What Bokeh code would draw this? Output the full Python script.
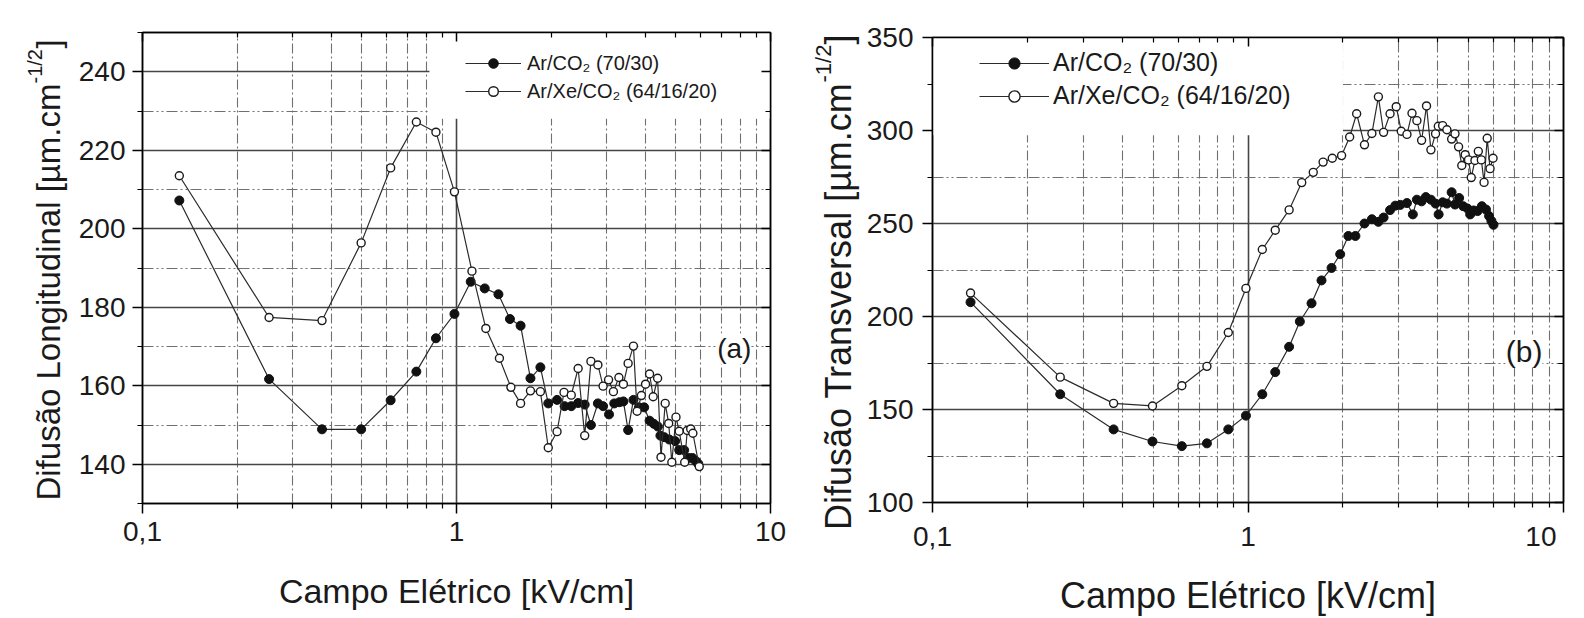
import math
from bokeh.plotting import figure
from bokeh.models import (FixedTicker, LinearAxis, LogAxis, Label, Legend, LegendItem,
                          BoxAnnotation, Range1d)
from bokeh.layouts import row, column
from bokeh.core.properties import value
from bokeh.embed import file_html
from bokeh.resources import INLINE

FONT = "Liberation Sans"

# ---------------- data: panel (a) Difusão Longitudinal ----------------
a_ar_x = [0.131, 0.253, 0.373, 0.497, 0.617, 0.745, 0.860, 0.985, 1.11, 1.23, 1.36, 1.48,
          1.60, 1.72, 1.85, 1.96, 2.09, 2.21, 2.32, 2.44, 2.56, 2.68, 2.82, 2.93, 3.06,
          3.18, 3.30, 3.40, 3.52, 3.66, 3.81, 3.96, 4.12, 4.25, 4.38, 4.46, 4.59, 4.76,
          4.97, 5.12, 5.31, 5.48, 5.64, 5.77, 5.89]
a_ar_y = [207.2, 161.7, 148.9, 148.9, 156.3, 163.6, 172.1, 178.3, 186.5, 184.8, 183.3, 177.0,
          175.3, 161.9, 164.7, 155.5, 156.4, 154.8, 154.8, 155.6, 155.2, 150.0, 155.5, 154.8,
          152.7, 155.5, 155.8, 156.0, 148.7, 156.4, 154.5, 154.5, 151.1, 150.3, 149.6, 147.3,
          146.9, 146.3, 145.9, 143.6, 143.6, 141.6, 141.6, 140.9, 140.1]

a_xe_x = [0.131, 0.253, 0.373, 0.497, 0.617, 0.745, 0.860, 0.985, 1.12, 1.24, 1.37, 1.49,
          1.60, 1.72, 1.85, 1.96, 2.09, 2.20, 2.32, 2.44, 2.56, 2.68, 2.82, 2.93, 3.05,
          3.16, 3.29, 3.40, 3.52, 3.66, 3.76, 3.88, 4.00, 4.12, 4.23, 4.37, 4.48, 4.62,
          4.74, 4.85, 5.00, 5.12, 5.33, 5.43, 5.57, 5.66, 5.93]
a_xe_y = [213.5, 177.4, 176.6, 196.4, 215.5, 227.2, 224.6, 209.4, 189.2, 174.6, 167.0, 159.6,
          155.5, 158.7, 158.5, 144.2, 148.3, 158.3, 157.6, 164.4, 147.3, 166.2, 165.3, 159.9,
          161.5, 158.5, 162.1, 160.4, 165.7, 170.1, 153.5, 157.5, 160.4, 163.0, 157.2, 161.9,
          141.8, 155.5, 150.4, 140.5, 152.0, 148.4, 140.5, 148.6, 149.0, 147.9, 139.4]

# ---------------- data: panel (b) Difusão Transversal ----------------
b_ar_x = [0.132, 0.254, 0.375, 0.498, 0.617, 0.741, 0.866, 0.985, 1.11, 1.22, 1.35, 1.46,
          1.59, 1.71, 1.84, 1.96, 2.08, 2.19, 2.34, 2.47, 2.59, 2.69, 2.82, 2.93, 3.04,
          3.19, 3.33, 3.43, 3.55, 3.66, 3.80, 3.93, 4.02, 4.14, 4.27, 4.42, 4.53, 4.67,
          4.81, 4.96, 5.06, 5.19, 5.34, 5.51, 5.68, 5.81, 5.91, 6.00]
b_ar_y = [207.7, 158.2, 139.3, 132.8, 130.3, 131.8, 139.3, 146.7, 158.2, 170.1, 183.7, 197.3,
          207.1, 219.4, 226.1, 233.5, 243.3, 243.3, 250.0, 252.3, 250.9, 253.2, 257.2, 259.6,
          260.0, 261.0, 254.9, 262.8, 261.9, 264.2, 262.8, 260.7, 254.9, 261.4, 260.7, 266.8,
          260.2, 263.7, 259.3, 258.1, 254.9, 257.0, 256.7, 259.3, 257.5, 254.0, 251.4, 249.3]

b_xe_x = [0.132, 0.254, 0.375, 0.498, 0.617, 0.741, 0.866, 0.985, 1.11, 1.22, 1.35, 1.48,
          1.61, 1.73, 1.85, 1.98, 2.10, 2.21, 2.34, 2.47, 2.59, 2.69, 2.82, 2.95, 3.06,
          3.19, 3.31, 3.43, 3.55, 3.68, 3.80, 3.93, 4.01, 4.14, 4.27, 4.42, 4.53, 4.65,
          4.76, 4.88, 5.00, 5.10, 5.24, 5.37, 5.49, 5.60, 5.73, 5.85, 5.98]
b_xe_y = [212.6, 167.4, 153.3, 151.9, 162.8, 173.2, 191.4, 215.1, 236.0, 246.4, 257.3, 272.0,
          277.5, 283.0, 285.1, 286.5, 296.5, 309.0, 292.3, 298.4, 318.1, 299.0, 309.0, 312.8,
          299.6, 297.9, 309.3, 305.3, 294.7, 313.2, 289.6, 298.2, 302.3, 302.6, 300.4, 295.4,
          298.2, 291.2, 281.2, 287.0, 284.2, 274.7, 283.9, 288.8, 284.2, 272.1, 295.8, 279.5,
          285.1]

series_labels = ["Ar/CO\u2082 (70/30)", "Ar/Xe/CO\u2082 (64/16/20)"]

x_ticks = [0.1, 1, 10]
a_x_tick_labels = ["0,1", "1", "10"]
b_x_tick_labels = ["0,1", "1", "10\u2002\u2002"]
x_minor = [0.2, 0.3, 0.4, 0.5, 0.6, 0.7, 0.8, 0.9, 2, 3, 4, 5, 6, 7, 8, 9]

a_y_ticks = [140, 160, 180, 200, 220, 240]
a_y_minor = [130, 150, 170, 190, 210, 230, 250]
b_y_ticks = [100, 150, 200, 250, 300, 350]
b_y_minor = [125, 175, 225, 275, 325]

x_title = "Campo Elétrico [kV/cm]"
a_y_title = "Difusão Longitudinal [µm.cm"
b_y_title = "Difusão Transversal [µm.cm"
y_title_sup = "-1/2"
y_title_close = "]"

H = 618


def title_strip(width, cfg):
    """Narrow figure holding the rotated y-axis title (with superscript)."""
    t = figure(width=width, height=H, x_range=Range1d(0, width), y_range=Range1d(0, H),
               min_border=0, x_axis_location=None, y_axis_location=None,
               output_backend="svg", toolbar_location=None, outline_line_color=None,
               background_fill_color="white", border_fill_color="white")
    t.grid.visible = False
    bx, yend, fs, sfs, supw = cfg["ytitle"]
    kw = dict(angle=math.pi / 2, text_baseline="alphabetic", text_font=value(FONT),
              text_color="#1a1a1a")
    t.text(x=[bx], y=[H - yend], text=[cfg["ytitle_text"]], text_align="right",
           text_font_size=value(f"{fs}px"), **kw)
    t.text(x=[bx - 0.42 * fs], y=[H - yend], text=[y_title_sup], text_align="left",
           text_font_size=value(f"{sfs}px"), **kw)
    t.text(x=[bx], y=[H - yend + supw], text=[y_title_close], text_align="left",
           text_font_size=value(f"{fs}px"), **kw)
    return t


def make_panel(cfg, W):
    fl, fr, ft, fb = cfg["frame"]
    y0, y1 = cfg["yr"]
    p = figure(width=W, height=H, x_axis_type="log",
               x_range=Range1d(0.1, 10), y_range=Range1d(y0, y1),
               min_border_left=fl, min_border_right=W - fr,
               min_border_top=ft, min_border_bottom=H - fb,
               output_backend="svg", toolbar_location=None,
               background_fill_color="white", border_fill_color="white",
               outline_line_color="black", outline_line_width=1.5)

    xt = FixedTicker(ticks=x_ticks, minor_ticks=x_minor)
    yt = FixedTicker(ticks=cfg["yt"], minor_ticks=cfg["ym"])

    ts = cfg["tick_fs"]
    xa = p.xaxis[0]
    xa.ticker = xt
    xa.major_label_overrides = dict(zip(x_ticks, cfg["xtl"]))
    xa.axis_label = x_title
    ya = p.yaxis[0]
    ya.ticker = yt
    for ax in (xa, ya):
        ax.axis_line_color = "black"
        ax.axis_line_width = 1.5
        ax.major_tick_line_color = "black"
        ax.major_tick_line_width = 1.5
        ax.minor_tick_line_color = "black"
        ax.minor_tick_line_width = 1.2
        ax.major_tick_out = 10
        ax.major_tick_in = 0
        ax.minor_tick_out = 5
        ax.minor_tick_in = 0
        ax.major_label_text_font = FONT
        ax.major_label_text_font_size = f"{ts}px"
        ax.major_label_text_color = "#1a1a1a"
        ax.axis_label_text_font = FONT
        ax.axis_label_text_font_style = "normal"
        ax.axis_label_text_font_size = f"{cfg['title_fs']}px"
        ax.axis_label_text_color = "#1a1a1a"
    xa.major_label_standoff = 8
    xa.axis_label_standoff = cfg["xlab_standoff"]
    ya.major_label_standoff = cfg["ylab_standoff"]

    common = dict(major_label_text_font_size="1px", major_label_text_alpha=0,
                  major_label_standoff=0,
                  major_tick_in=9, major_tick_out=0, minor_tick_in=5, minor_tick_out=0,
                  axis_line_color="black", axis_line_width=1.5,
                  major_tick_line_width=1.5, minor_tick_line_width=1.2)
    p.add_layout(LinearAxis(ticker=yt, **common), "right")
    p.add_layout(LogAxis(ticker=xt, **common), "above")

    p.xgrid.ticker = xt
    p.ygrid.ticker = yt
    for g in (p.xgrid[0], p.ygrid[0]):
        g.grid_line_color = "#454545"
        g.grid_line_width = 1.6
        g.minor_grid_line_color = "#707070"
        g.minor_grid_line_width = 1.1
    p.xgrid.minor_grid_line_dash = "10 3 2 3"
    p.ygrid.minor_grid_line_dash = "11 3 2 3 2 3"

    p.add_layout(BoxAnnotation(level="underlay", fill_color="white", fill_alpha=1,
                               line_color=None, **cfg["legend_patch"]))

    ms = cfg["ms"]
    l1 = p.line(cfg["x1"], cfg["y1"], line_color="#2b2b2b", line_width=1.2)
    s1 = p.scatter(cfg["x1"], cfg["y1"], marker="circle", size=ms, fill_color="#111111",
                   line_color="#111111", line_width=1)
    l2 = p.line(cfg["x2"], cfg["y2"], line_color="#2b2b2b", line_width=1.2)
    s2 = p.scatter(cfg["x2"], cfg["y2"], marker="circle", size=ms - 1, fill_color="white",
                   line_color="#1a1a1a", line_width=1.4)

    lg = cfg["legend"]
    legend = Legend(items=[LegendItem(label=series_labels[0], renderers=[l1, s1]),
                           LegendItem(label=series_labels[1], renderers=[l2, s2])],
                    location=lg["loc"], padding=1, margin=0, spacing=lg["spacing"],
                    glyph_width=lg["gw"], glyph_height=lg["h"], label_height=lg["h"],
                    label_standoff=lg["standoff"],
                    label_text_font=FONT, label_text_font_size=f"{lg['fs']}px",
                    label_text_color="#1a1a1a",
                    background_fill_alpha=0, border_line_alpha=0)
    p.add_layout(legend)

    tx, ty = cfg["tag_xy"]
    p.add_layout(Label(x=tx, y=ty, text=cfg["tag"], text_align="center",
                       text_baseline="middle", text_font=FONT,
                       text_font_size=f"{cfg['tag_fs']}px", text_color="#1a1a1a",
                       background_fill_color="white", background_fill_alpha=1))
    return p


# widths: [title strip | plot] for each panel, total 1584
TA, TB = 72, 70
cfg_a = dict(frame=(142 - TA, 770 - TA, 32, 503), yr=(130, 250), yt=a_y_ticks, ym=a_y_minor,
             xtl=a_x_tick_labels,
             tick_fs=28, title_fs=34, xlab_standoff=28, ylab_standoff=7,
             legend_patch=dict(left=0.82, bottom=228.0),
             x1=a_ar_x, y1=a_ar_y, x2=a_xe_x, y2=a_xe_y, ms=9,
             legend=dict(loc=(322, 399), spacing=4, gw=56, h=24, standoff=6, fs=20),
             tag="(a)", tag_xy=(7.67, 169.4), tag_fs=28,
             ytitle=(48, 83, 33, 20, 35), ytitle_text=a_y_title)

cfg_b = dict(frame=(932 - 792 - TB, 1563 - 792 - TB, 37, 508), yr=(100, 350),
             yt=b_y_ticks, ym=b_y_minor, xtl=b_x_tick_labels,
             tick_fs=28, title_fs=36, xlab_standoff=20, ylab_standoff=9,
             legend_patch=dict(right=2.0, bottom=297.5),
             x1=b_ar_x, y1=b_ar_y, x2=b_xe_x, y2=b_xe_y, ms=9,
             legend=dict(loc=(46, 391), spacing=4, gw=70, h=28, standoff=4, fs=25),
             tag="(b)", tag_xy=(7.5, 181.4), tag_fs=30,
             ytitle=(838 - 792, 82, 36, 22, 38), ytitle_text=b_y_title)

t1 = title_strip(TA, cfg_a)
p1 = make_panel(cfg_a, 792 - TA)
t2 = title_strip(TB, cfg_b)
p2 = make_panel(cfg_b, 792 - TB)
layout = row(column(t1), column(p1), column(t2), column(p2))

open("out.html", "w").write(file_html(layout, INLINE))
